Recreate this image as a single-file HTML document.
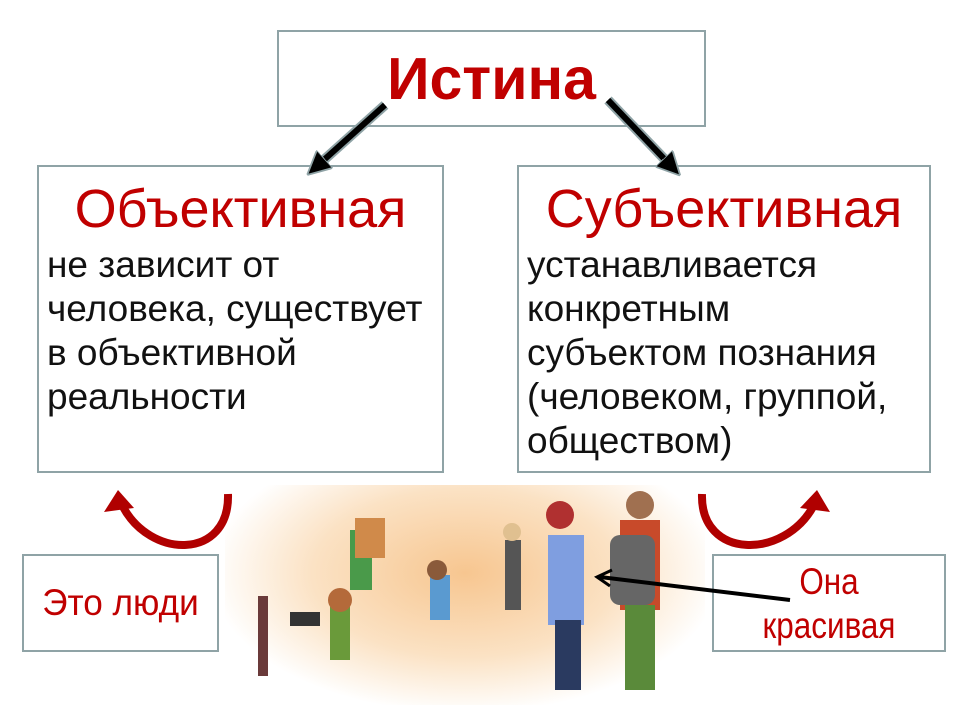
<!DOCTYPE html>
<html><head><meta charset="utf-8"><style>
body{margin:0;width:960px;height:720px;background:#fff;position:relative;overflow:hidden;font-family:"Liberation Sans",sans-serif}
.b{position:absolute;border:2.5px solid #8fa3a6;background:#fff;box-sizing:border-box}
.t{position:absolute;white-space:nowrap}
.red{color:#c00000}
.body{font-size:37px;line-height:44px;color:#111}
</style></head><body>
<div style="position:absolute;left:225px;top:485px;width:480px;height:220px;background:radial-gradient(ellipse at 50% 40%,#f7c690 0%,#fbe2c4 45%,#fff 75%)"></div>
<div class="b" style="left:277px;top:30px;width:429px;height:97px"></div>
<div class="t red" style="left:277px;width:429px;top:45px;text-align:center;font-size:59px;font-weight:bold">Истина</div>
<div class="b" style="left:37px;top:165px;width:407px;height:308px"></div>
<div class="t red" style="left:37px;width:407px;top:178px;text-align:center;font-size:54px">Объективная</div>
<div class="t body" style="left:47px;top:243px">не зависит от<br>человека, существует<br>в объективной<br>реальности</div>
<div class="b" style="left:517px;top:165px;width:414px;height:308px"></div>
<div class="t red" style="left:517px;width:414px;top:178px;text-align:center;font-size:54px">Субъективная</div>
<div class="t body" style="left:527px;top:243px">устанавливается<br>конкретным<br>субъектом познания<br>(человеком, группой,<br>обществом)</div>
<div class="b" style="left:22px;top:554px;width:197px;height:98px"></div>
<div class="t red" style="left:22px;width:197px;top:582px;text-align:center;font-size:37px;transform:scaleX(0.95)">Это люди</div>
<div class="b" style="left:712px;top:554px;width:234px;height:98px"></div>
<div class="t red" style="left:712px;width:234px;top:560px;text-align:center;font-size:37px;line-height:44px;transform:scaleX(0.85)">Она<br>красивая</div>
<svg width="960" height="720" style="position:absolute;left:0;top:0">
<defs>
<marker id="ah" markerWidth="4" markerHeight="4" refX="2" refY="2" orient="auto" markerUnits="strokeWidth"><path d="M0,0L4,2L0,4z" fill="#000" stroke="#8fa3a6" stroke-width="0.3"/></marker>
</defs>
<line x1="385" y1="105" x2="316" y2="167" stroke="#8fa3a6" stroke-width="10"/>
<line x1="385" y1="105" x2="316" y2="167" stroke="#000" stroke-width="6" marker-end="url(#ah)"/>
<line x1="608" y1="100" x2="672" y2="167" stroke="#8fa3a6" stroke-width="10"/>
<line x1="608" y1="100" x2="672" y2="167" stroke="#000" stroke-width="6" marker-end="url(#ah)"/>
<path d="M228,494 C230,560 150,560 122,505" fill="none" stroke="#b00000" stroke-width="8"/>
<path d="M104,512 L118,490 L134,508z" fill="#b00000"/>
<path d="M702,494 C700,560 785,560 814,505" fill="none" stroke="#b00000" stroke-width="8"/>
<path d="M800,508 L817,490 L830,512z" fill="#b00000"/>
<rect x="258" y="596" width="10" height="80" fill="#6a3a3a"/>
<rect x="330" y="600" width="20" height="60" fill="#6a9a3a"/>
<circle cx="340" cy="600" r="12" fill="#b46a3a"/>
<rect x="290" y="612" width="30" height="14" fill="#333"/>
<rect x="350" y="530" width="22" height="60" fill="#4a9a4a"/>
<rect x="355" y="518" width="30" height="40" fill="#d08a4a"/>
<rect x="430" y="575" width="20" height="45" fill="#5a9ad0"/>
<circle cx="437" cy="570" r="10" fill="#8a5a3a"/>
<rect x="505" y="540" width="16" height="70" fill="#555"/>
<circle cx="512" cy="532" r="9" fill="#e0c090"/>
<rect x="548" y="535" width="36" height="90" fill="#7f9ee0"/>
<rect x="555" y="620" width="26" height="70" fill="#2a3a60"/>
<circle cx="560" cy="515" r="14" fill="#b03030"/>
<rect x="620" y="520" width="40" height="90" fill="#c84a2a"/>
<rect x="610" y="535" width="45" height="70" rx="10" fill="#666"/>
<rect x="625" y="605" width="30" height="85" fill="#5a8a3a"/>
<circle cx="640" cy="505" r="14" fill="#a07050"/>
<line x1="790" y1="600" x2="600" y2="577" stroke="#000" stroke-width="4"/>
<path d="M612,570 L597,577 L610,586" fill="none" stroke="#000" stroke-width="3"/>
</svg>
</body></html>
